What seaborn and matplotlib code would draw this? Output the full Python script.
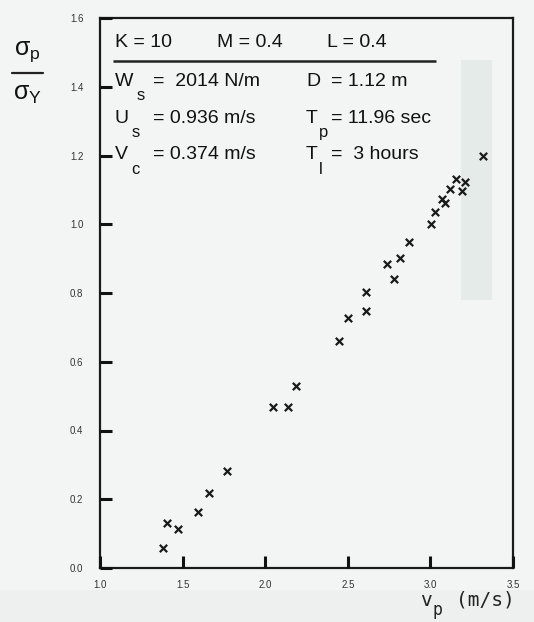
import matplotlib
matplotlib.use("Agg")
import matplotlib.pyplot as plt
from matplotlib.patches import Rectangle
import seaborn as sns
import pandas as pd

# Peak velocity v_p (m/s) and normalised peak stress sigma_p / sigma_Y
vp = [1.38, 1.405, 1.473, 1.593, 1.660, 1.770, 2.050, 2.138, 2.186,
      2.445, 2.501, 2.609, 2.613, 2.738, 2.782, 2.818, 2.870, 3.004,
      3.026, 3.068, 3.088, 3.116, 3.152, 3.190, 3.211, 3.321]
stress_ratio = [0.057, 0.130, 0.113, 0.162, 0.219, 0.283, 0.467, 0.467, 0.530,
                0.661, 0.726, 0.749, 0.802, 0.884, 0.840, 0.901, 0.949, 1.000,
                1.035, 1.073, 1.062, 1.103, 1.131, 1.098, 1.124, 1.199]

x_ticks = [1.0, 1.5, 2.0, 2.5, 3.0, 3.5]
x_tick_labels = ["1.0", "1.5", "2.0", "2.5", "3.0", "3.5"]
y_ticks = [0.0, 0.2, 0.4, 0.6, 0.8, 1.0, 1.2, 1.4, 1.6]
y_tick_labels = ["0.0", "0.2", "0.4", "0.6", "0.8", "1.0", "1.2", "1.4", "1.6"]

# Case parameters
header = [("K = 10", 0.036), ("M = 0.4", 0.283), ("L = 0.4", 0.55)]
left_params = [("W", "s", "=  2014 N/m"), ("U", "s", "= 0.936 m/s"), ("V", "c", "= 0.374 m/s")]
right_params = [("D", "", "= 1.12 m"), ("T", "p", "= 11.96 sec"), ("T", "l", "=  3 hours")]

df = pd.DataFrame({"vp": vp, "ratio": stress_ratio})

sns.set_theme(style="white")
plt.rcParams["font.family"] = ["Liberation Sans", "DejaVu Sans"]
plt.rcParams["mathtext.fontset"] = "custom"
plt.rcParams["mathtext.rm"] = "Liberation Sans"
plt.rcParams["mathtext.it"] = "Liberation Sans"

W, H = 534, 622
bg = "#f3f5f4"
ink = "#111111"
fig = plt.figure(figsize=(W / 100, H / 100), dpi=100, facecolor=bg)
ax = fig.add_axes([100 / W, 1 - 568 / H, 413 / W, 550 / H])
ax.set_facecolor("none")

# faint vertical band and lower strip from the scanned page
fig.patches.append(Rectangle((461 / W, 1 - 300 / H), 31 / W, 240 / H,
                             transform=fig.transFigure, facecolor="#e4ebe9",
                             edgecolor="none", zorder=-1))
fig.patches.append(Rectangle((0, 0), 1, 32 / H, transform=fig.transFigure,
                             facecolor="#eef0ef", edgecolor="none", zorder=-1))

sns.scatterplot(data=df, x="vp", y="ratio", marker="x", color="#1a1a1a",
                s=28, linewidth=1.6, ax=ax, legend=False, zorder=3)

ax.set_xlim(1.0, 3.5)
ax.set_ylim(0.0, 1.6)
ax.set_xticks(x_ticks)
ax.set_xticklabels(x_tick_labels)
ax.set_yticks(y_ticks)
ax.set_yticklabels(y_tick_labels)
ax.set_xlabel("")
ax.set_ylabel("")
for sp in ax.spines.values():
    sp.set_visible(True)
    sp.set_color("#1a1a1a")
    sp.set_linewidth(1.6)
ax.tick_params(length=0, labelsize=7, labelcolor="#333333")
ax.tick_params(axis="x", pad=9)
ax.tick_params(axis="y", pad=12)

# inward tick marks on the bottom and left axes
ax.vlines(x_ticks, 0, 0.021, transform=ax.get_xaxis_transform(),
          colors="#111111", linewidth=2.2, clip_on=False, zorder=4)
ax.hlines(y_ticks, 0, 0.028, transform=ax.get_yaxis_transform(),
          colors="#111111", linewidth=2.2, clip_on=False, zorder=4)

# parameter block
fs = 14
for txt, xa in header:
    ax.text(xa, 0.955, txt, transform=ax.transAxes, fontsize=fs, va="center",
            ha="left", color=ink)
ax.plot([0.031, 0.814], [0.921, 0.921], transform=ax.transAxes,
        color="#222222", lw=1.8, solid_capstyle="butt")

rows_y = [0.885, 0.818, 0.751]
sub_dx = [0.053, 0.040, 0.040]
for (sym, sub, rest), yy, dx in zip(left_params, rows_y, sub_dx):
    ax.text(0.036, yy, sym, transform=ax.transAxes, fontsize=fs, va="center", color=ink)
    ax.text(0.036 + dx, yy - 0.026, sub, transform=ax.transAxes, fontsize=fs * 0.85,
            va="center", color=ink)
    ax.text(0.128, yy, rest, transform=ax.transAxes, fontsize=fs, va="center", color=ink)
for (sym, sub, rest), yy in zip(right_params, rows_y):
    ax.text(0.499, yy, sym, transform=ax.transAxes, fontsize=fs, va="center", color=ink)
    if sub:
        ax.text(0.499 + 0.030, yy - 0.026, sub, transform=ax.transAxes, fontsize=fs * 0.85,
                va="center", color=ink)
    ax.text(0.560, yy, rest, transform=ax.transAxes, fontsize=fs, va="center", color=ink)

# y label: sigma_p / sigma_Y
fig.text(27 / W, 1 - 52 / H, r"$\sigma_{\mathrm{p}}$", fontsize=18, ha="center",
         va="center", color=ink)
fig.lines.append(plt.Line2D([12 / W, 43 / W], [1 - 73 / H, 1 - 73 / H],
                            transform=fig.transFigure, color="#222222", lw=1.6))
fig.text(27 / W, 1 - 94 / H, r"$\sigma_{\mathrm{Y}}$", fontsize=18, ha="center",
         va="center", color=ink)

# x label: v_p (m/s)
mono = ["DejaVu Sans Mono"]
fig.text(420 / W, 1 - 600 / H, "v", fontsize=14, family=mono, ha="left", va="center", color="#222222")
fig.text(432 / W, 1 - 610 / H, "p", fontsize=12, family=mono, ha="left", va="center", color="#222222")
fig.text(456 / W, 1 - 600 / H, "(m/s)", fontsize=14, family=mono, ha="left", va="center", color="#222222")

fig.savefig("out.png", dpi=100, facecolor=bg)
